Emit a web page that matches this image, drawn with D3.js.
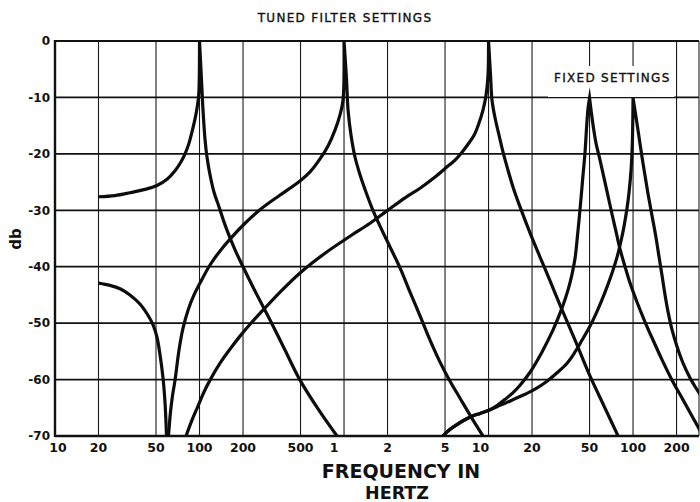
<!DOCTYPE html>
<html><head><meta charset="utf-8">
<script src="https://cdn.jsdelivr.net/npm/d3@7"></script>
<style>
html,body{margin:0;padding:0;background:#fff;}
svg{display:block;}
text{font-family:"DejaVu Sans",sans-serif;fill:#111;}
</style></head><body>
<svg id="c" width="700" height="502"></svg>
<script>
// ---- axis values ----
const dbTicks = [0,-10,-20,-30,-40,-50,-60,-70];
const freqTicks = [10,20,50,100,200,500,1000,2000,5000,10000,20000,50000,100000,200000];
const freqTickLabels = ["10","20","50","100","200","500","1","2","5","10","20","50","100","200"];
const FREQ_MIN = 10, FREQ_MAX = 286000;
const DB_MIN = -70, DB_MAX = 0;

// ---- curves: [frequency Hz, dB] ----
const tuned100Below = [[20,-27.6],[26,-27.4],[33,-26.9],[42,-26.3],[50.8,-25.6],[59.6,-24.5],[67.7,-23.0],[74.5,-21.4],[79.4,-20.0],[84.6,-18.1],[88.7,-16.1],[93.1,-13.8],[96.1,-11.9],[98.7,-9.6],[100,0]];
const tuned100Above = [[100,0],[103.2,-6.9],[105.7,-12.2],[109.2,-17.5],[112.7,-20.6],[118.2,-23.7],[126,-26.8],[136.5,-29.4],[147.8,-32.1],[162.6,-34.9],[178.9,-37.4],[200,-40.0],[242,-44.3],[307,-49.4],[391,-54.8],[496,-60.1],[661,-65.2],[894,-70]];
const tuned1kNotch = [[20,-42.9],[24,-43.3],[28.2,-43.9],[33,-45.0],[38.7,-46.6],[44,-48.6],[47.7,-50.3],[50.8,-52.5],[53.3,-55.6],[55.9,-59.7],[57.7,-64.0],[59.1,-70]];
const tuned1kBelow = [[61,-70],[63,-65.7],[65,-62.9],[67.7,-60.1],[72.1,-54.8],[76.9,-50.9],[83.3,-47.7],[91.6,-45.0],[100.8,-42.9],[118.2,-39.7],[138.7,-37.2],[162.6,-35.1],[206.5,-32.3],[262,-29.9],[361,-27.3],[496,-24.8],[582,-23.2],[682,-20.9],[775,-18.6],[866,-15.8],[938,-13.1],[984,-10.5],[1000,0]];
const tuned1kAbove = [[1000,0],[1041,-6.9],[1066,-12.2],[1118,-16.7],[1192,-20.6],[1290,-23.7],[1420,-26.8],[1562,-29.6],[1775,-32.8],[2081,-36.5],[2441,-40.2],[2862,-44.5],[3357,-48.7],[3937,-53.0],[4617,-56.9],[5415,-60.3],[6350,-63.3],[7568,-66.6],[9160,-70]];
const tuned10kBelow = [[80.7,-70],[88.7,-67.2],[97.6,-64.7],[107.4,-62.2],[118.2,-60.1],[138.7,-57.1],[162.6,-54.6],[190.7,-52.3],[230.8,-49.8],[275,-47.7],[361,-44.5],[496,-41.1],[739,-37.6],[1100,-34.6],[1513,-32.3],[1985,-30.1],[2643,-27.8],[3357,-26.1],[4264,-24.1],[5163,-22.3],[5865,-21.1],[6556,-19.7],[7213,-18.3],[7938,-16.7],[8600,-14.5],[9160,-12.2],[9610,-9.6],[9920,-6.0],[10000,0]];
const tuned10kAbove = [[10000,0],[10320,-6.0],[10570,-10.5],[11090,-13.6],[11820,-16.7],[12600,-19.7],[13640,-22.9],[14780,-25.9],[16520,-29.4],[19370,-34.0],[22720,-38.3],[26650,-42.5],[31250,-46.8],[39690,-53.0],[50400,-59.4],[63000,-64.7],[78760,-70]];
const fixed50kBelow = [[4842,-70],[5245,-69.1],[5865,-68.2],[6661,-67.3],[7688,-66.5],[8736,-66.0],[9920,-65.5],[11450,-64.6],[13010,-63.5],[14780,-62.3],[16520,-61.0],[19370,-58.7],[23450,-55.1],[27950,-51.2],[32270,-47.3],[35500,-44.1],[37840,-41.3],[39690,-38.5],[40980,-35.3],[42300,-31.7],[43670,-27.8],[45080,-23.7],[46540,-19.7],[47670,-15.4],[48830,-11.9],[50000,-10.1]];
const fixed50kAbove = [[50000,-10.1],[51200,-12.2],[52880,-14.9],[55430,-18.1],[59100,-21.1],[63000,-24.3],[67140,-27.5],[71560,-30.7],[76270,-33.8],[81280,-36.9],[88050,-40.0],[95340,-42.9],[106600,-46.3],[121100,-49.8],[137500,-53.0],[158800,-56.5],[186200,-60.1],[221800,-63.6],[260200,-66.8],[305100,-70]];
const fixed100kBelow = [[4842,-70],[5245,-69.1],[5865,-68.2],[6661,-67.3],[7688,-66.5],[8736,-66.0],[9920,-65.5],[11450,-64.8],[13010,-64.2],[15260,-63.4],[17890,-62.6],[20980,-61.7],[25400,-60.3],[29790,-58.8],[34940,-57.1],[39690,-55.1],[44380,-53.0],[50400,-50.5],[56350,-47.9],[64020,-44.5],[71560,-41.1],[77500,-38.3],[82600,-35.4],[86660,-32.8],[90880,-29.6],[93820,-26.8],[96870,-22.9],[98800,-18.4],[100000,-10.1]];
const fixed100kAbove = [[100000,-10.1],[104900,-13.5],[110000,-17.0],[115400,-20.6],[121100,-23.9],[127000,-27.1],[135400,-31.0],[144300,-34.9],[151400,-38.3],[158800,-41.6],[166500,-45.0],[174700,-48.0],[186200,-51.2],[201700,-54.2],[221800,-57.1],[248000,-59.7],[277300,-61.8],[315000,-64.0]];

const curveGroups = [
  [tuned100Below, tuned100Above],
  [tuned1kNotch],
  [tuned1kBelow, tuned1kAbove],
  [tuned10kBelow, tuned10kAbove],
  [fixed50kBelow, fixed50kAbove],
  [fixed100kBelow, fixed100kAbove]
];

// ---- layout ----
const svg = d3.select("#c");
const x = d3.scaleLog().domain([FREQ_MIN, FREQ_MAX]).range([55, 699]);
const y = d3.scaleLinear().domain([DB_MIN, DB_MAX]).range([436, 41]);
const [x0, x1] = x.range();
const [yb, yt] = y.range();

// vertical grid
svg.append("g").selectAll("line").data(freqTicks.slice(1)).join("line")
  .attr("x1", d => x(d)).attr("x2", d => x(d))
  .attr("y1", yt).attr("y2", yb)
  .attr("stroke", "#1a1a1a").attr("stroke-width", 1.1);
// horizontal grid
svg.append("g").selectAll("line").data(dbTicks.slice(1, -1)).join("line")
  .attr("x1", x0).attr("x2", x1)
  .attr("y1", d => y(d)).attr("y2", d => y(d))
  .attr("stroke", "#111").attr("stroke-width", 1.7);
// frame
svg.append("line").attr("x1", x0).attr("x2", x1).attr("y1", y(0)).attr("y2", y(0)).attr("stroke", "#111").attr("stroke-width", 2.2);
svg.append("line").attr("x1", x0).attr("x2", x1).attr("y1", y(-70)).attr("y2", y(-70)).attr("stroke", "#111").attr("stroke-width", 2.4);
svg.append("line").attr("x1", x0).attr("x2", x0).attr("y1", yt - 1).attr("y2", yb + 1).attr("stroke", "#111").attr("stroke-width", 2.4);
svg.append("line").attr("x1", x1).attr("x2", x1).attr("y1", yt).attr("y2", yb).attr("stroke", "#333").attr("stroke-width", 1.2);

// label box for fixed settings
svg.append("rect").attr("x", 548).attr("y", 66).attr("width", 126).attr("height", 31).attr("fill", "#fff");
svg.append("text").attr("x", 554).attr("y", 82)
  .attr("font-size", 12).attr("letter-spacing", 1.3)
  .attr("stroke", "#111").attr("stroke-width", 0.35)
  .text("FIXED SETTINGS");

// clip
svg.append("clipPath").attr("id", "clip").append("rect")
  .attr("x", x0).attr("y", yt - 2).attr("width", x1 - x0).attr("height", yb - yt + 2);

const line = d3.line().x(d => x(d[0])).y(d => y(d[1])).curve(d3.curveCatmullRom.alpha(0.5));
svg.append("g").attr("clip-path", "url(#clip)").selectAll("path").data(curveGroups).join("path")
  .attr("d", g => g.map((seg, i) => { const s = line(seg); return i === 0 ? s : s.replace(/^M/, "L"); }).join(""))
  .attr("fill", "none").attr("stroke", "#0d0d0d").attr("stroke-width", 3.2)
  .attr("stroke-linejoin", "miter").attr("stroke-miterlimit", 10);

// y labels
svg.append("g").selectAll("text").data(dbTicks).join("text")
  .attr("x", 50).attr("y", d => y(d)).attr("dy", "0.36em")
  .attr("text-anchor", "end").attr("font-size", 12).attr("font-weight", "bold")
  .text(d => d === 0 ? "0" : "-" + Math.abs(d));

// x labels
const labelShift = {0: 3, 6: -10, 9: -8};
svg.append("g").selectAll("text").data(freqTicks).join("text")
  .attr("x", (d, i) => x(d) + (labelShift[i] || 0)).attr("y", 452)
  .attr("text-anchor", "middle")
  .attr("font-size", 12.5).attr("font-weight", "bold")
  .text((d, i) => freqTickLabels[i]);

// titles
svg.append("text").attr("x", 345).attr("y", 22).attr("text-anchor", "middle")
  .attr("font-size", 12).attr("letter-spacing", 1.3)
  .attr("stroke", "#111").attr("stroke-width", 0.35)
  .text("TUNED FILTER SETTINGS");
svg.append("text").attr("transform", "translate(16,239) rotate(-90)")
  .attr("text-anchor", "middle").attr("dominant-baseline", "central")
  .attr("font-size", 15).attr("font-weight", "bold").text("db");
svg.append("text").attr("x", 401).attr("y", 477.5).attr("text-anchor", "middle")
  .attr("font-size", 19).attr("font-weight", "bold").text("FREQUENCY IN");
svg.append("text").attr("x", 397).attr("y", 498.5).attr("text-anchor", "middle")
  .attr("font-size", 17.5).attr("font-weight", "bold").text("HERTZ");
</script>
</body></html>
